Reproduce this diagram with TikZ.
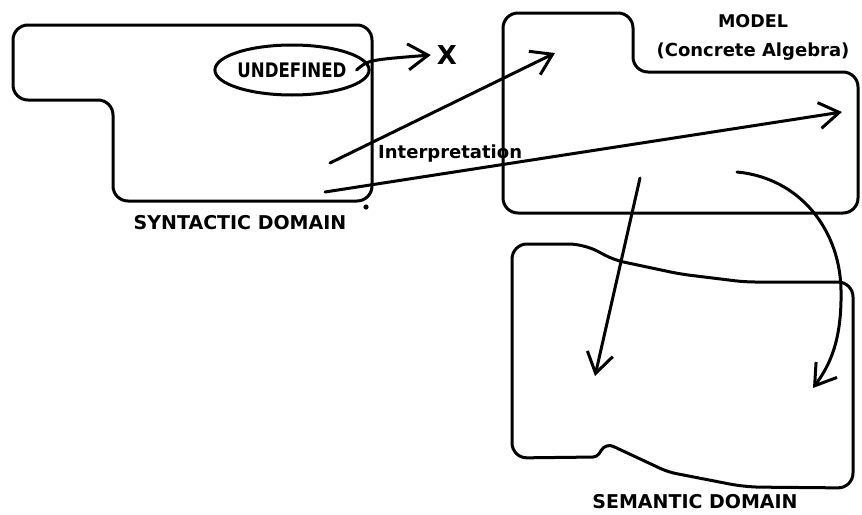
\documentclass[tikz,border=0pt]{standalone}
\usepackage{fontspec}
\setmainfont{DejaVu Sans}
\usetikzlibrary{arrows.meta,shapes.geometric}
\tikzset{
  outline/.style={line width=3pt, rounded corners=15pt, line join=round},
  link/.style={line width=3pt, line cap=round,
    -{Straight Barb[length=20pt,width=26pt]}},
  caption/.style={font=\fontsize{19}{19}\selectfont\bfseries, inner sep=0pt},
  sub/.style={font=\fontsize{18}{18}\selectfont\bfseries, inner sep=0pt},
}
\begin{document}
\begin{tikzpicture}[x=1pt,y=-1pt]
\useasboundingbox (0,0) rectangle (862,514);

% syntactic domain outline
\draw[outline] (13,25) -- (372,25) -- (372,201) -- (113,201) -- (113,100) -- (13,100) -- cycle;
% model outline
\draw[outline] (503,13) -- (633,13) -- (633,72) -- (858,72) -- (858,213) -- (503,213) -- cycle;
% semantic domain outline
\draw[outline] (512,300) -- (512,244) -- (584,244)
  [rounded corners=10pt] -- (614,260) -- (680,274) -- (745,282)
  [rounded corners=15pt] -- (853,282) -- (853,488) -- (745,487)
  [rounded corners=8pt] -- (668,472) -- (606,443)
  [rounded corners=4pt] -- (597,457)
  [rounded corners=15pt] -- (512,458) -- cycle;

% labels
\node[caption] (syn) at (240,223) {SYNTACTIC DOMAIN};
\node[caption] (sem) at (695,502) {SEMANTIC DOMAIN};
\node[sub, font=\fontsize{17.5}{17.5}\selectfont\bfseries] (model) at (753,21) {MODEL};
\node[sub] (alg) at (753,52) {(Concrete Algebra)};
\node[ellipse, draw, line width=3pt, minimum width=140pt, minimum height=50pt,
      inner sep=0pt, font=\fontsize{20}{20}\selectfont\bfseries] (undef) at (292,70)
      {\scalebox{0.83}[1]{UNDEFINED}};
\node[font=\fontsize{26}{26}\selectfont\bfseries, inner sep=6pt] (x) at (447,55) {X};
\node[anchor=base west, inner sep=0pt, font=\fontsize{18}{18}\selectfont\bfseries] (interp) at (378,158) {Interpretation};
\fill (366,207) circle (2.6pt);

% arrow end points
\coordinate (s1) at (330,163);
\coordinate (m1) at (555,53);
\coordinate (s2) at (325,192);
\coordinate (m2) at (842,112);
\coordinate (m3) at (640,178);
\coordinate (d3) at (595,376);
\coordinate (m4) at (737,172);
\coordinate (d4) at (813,388);

% arrows
\draw[link] ([xshift=-14pt]undef.east) .. controls (368,60) .. (x.west);
\draw[link] (s1) -- (m1);
\draw[link] (s2) -- (m2);
\draw[link] (m3) -- (d3);
\draw[link] (m4) .. controls (800,178) and (840,230) .. (841,290)
  .. controls (842,340) and (830,365) .. (d4);
\end{tikzpicture}
\end{document}
